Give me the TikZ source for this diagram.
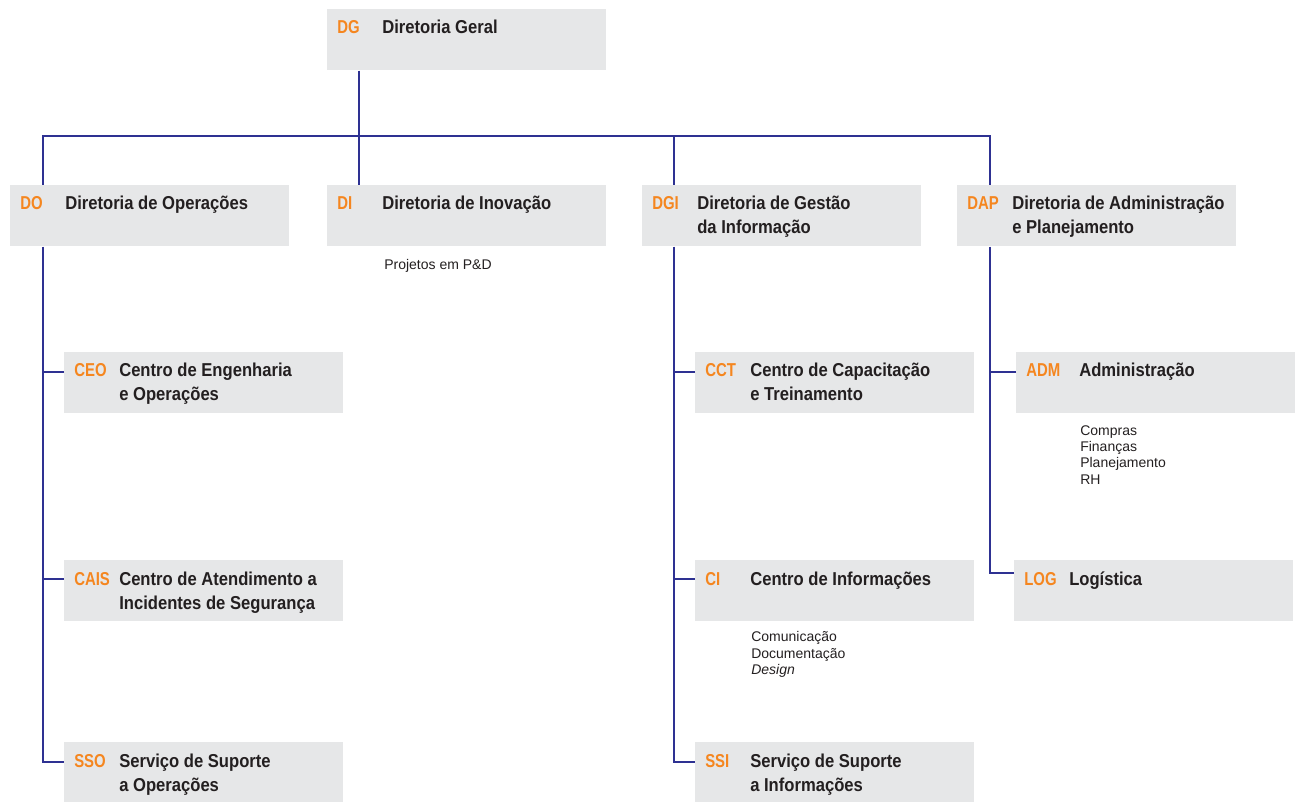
\documentclass[tikz,border=0pt]{standalone}
\usepackage{fontspec}
\setmainfont{Liberation Sans}
\newfontfamily\titlefont[FakeStretch=0.89]{Liberation Sans}
\newfontfamily\codefont[FakeStretch=0.8]{Liberation Sans}
\newfontfamily\notefont{Liberation Sans}
\definecolor{boxgray}{RGB}{230,231,232}
\definecolor{codeorange}{RGB}{245,134,31}
\definecolor{linkblue}{RGB}{46,49,146}
\definecolor{inkdark}{RGB}{35,31,32}

\begin{document}
\begin{tikzpicture}[x=0.75pt,y=-0.75pt,
  box/.style={fill=boxgray, anchor=north west, inner sep=0pt, minimum width=209.25pt, minimum height=45.75pt},
  code/.style={anchor=base west, inner sep=0pt, text=codeorange, font=\codefont\fontsize{14}{18}\selectfont\bfseries},
  title/.style={anchor=base west, inner sep=0pt, align=left, text=inkdark, font=\titlefont\fontsize{14}{18}\selectfont\bfseries},
  note/.style={anchor=base west, inner sep=0pt, align=left, text=inkdark, font=\notefont\fontsize{10.5}{12.2}\selectfont},
  link/.style={draw=linkblue, line width=1.5pt}]
\useasboundingbox (0,0) rectangle (1300,802);

% Boxes
\node[box] (dg)   at (327,9) {};
\node[box] (do)   at (10,185) {};
\node[box] (di)   at (327,185) {};
\node[box] (dgi)  at (642,185) {};
\node[box] (dap)  at (957,185) {};
\node[box] (ceo)  at (64,352) {};
\node[box] (cais) at (64,560) {};
\node[box] (sso)  at (64,742) {};
\node[box] (cct)  at (695,352) {};
\node[box] (ci)   at (695,560) {};
\node[box] (ssi)  at (695,742) {};
\node[box] (adm)  at (1016,352) {};
\node[box] (log)  at (1014,560) {};

% Codes and titles (base of a two-line title is its last line)
\node[code]  (dg-c)   at ([shift={(10,25)}]dg.north west) {DG};
\node[title] (dg-t)   at ([shift={(55,25)}]dg.north west) {Diretoria Geral};
\node[code]  (do-c)   at ([shift={(10,25)}]do.north west) {DO};
\node[title] (do-t)   at ([shift={(55,25)}]do.north west) {Diretoria de Operações};
\node[code]  (di-c)   at ([shift={(10,25)}]di.north west) {DI};
\node[title] (di-t)   at ([shift={(55,25)}]di.north west) {Diretoria de Inovação};
\node[code]  (dgi-c)  at ([shift={(10,25)}]dgi.north west) {DGI};
\node[title] (dgi-t)  at ([shift={(55,49)}]dgi.north west) {Diretoria de Gestão\\da Informação};
\node[code]  (dap-c)  at ([shift={(10,25)}]dap.north west) {DAP};
\node[title] (dap-t)  at ([shift={(55,49)}]dap.north west) {Diretoria de Administração\\e Planejamento};
\node[code]  (ceo-c)  at ([shift={(10,25)}]ceo.north west) {CEO};
\node[title] (ceo-t)  at ([shift={(55,49)}]ceo.north west) {Centro de Engenharia\\e Operações};
\node[code]  (cais-c) at ([shift={(10,25)}]cais.north west) {CAIS};
\node[title] (cais-t) at ([shift={(55,49)}]cais.north west) {Centro de Atendimento a\\Incidentes de Segurança};
\node[code]  (sso-c)  at ([shift={(10,25)}]sso.north west) {SSO};
\node[title] (sso-t)  at ([shift={(55,49)}]sso.north west) {Serviço de Suporte\\a Operações};
\node[code]  (cct-c)  at ([shift={(10,25)}]cct.north west) {CCT};
\node[title] (cct-t)  at ([shift={(55,49)}]cct.north west) {Centro de Capacitação\\e Treinamento};
\node[code]  (ci-c)   at ([shift={(10,25)}]ci.north west) {CI};
\node[title] (ci-t)   at ([shift={(55,25)}]ci.north west) {Centro de Informações};
\node[code]  (ssi-c)  at ([shift={(10,25)}]ssi.north west) {SSI};
\node[title] (ssi-t)  at ([shift={(55,49)}]ssi.north west) {Serviço de Suporte\\a Informações};
\node[code]  (adm-c)  at ([shift={(10,25)}]adm.north west) {ADM};
\node[title] (adm-t)  at ([shift={(63,25)}]adm.north west) {Administração};
\node[code]  (log-c)  at ([shift={(10,25)}]log.north west) {LOG};
\node[title] (log-t)  at ([shift={(55,25)}]log.north west) {Logística};

% Notes (placed at the base of their last line)
\node[note] (di-n)  at (384,270) {Projetos em P\&D};
\node[note] (ci-n)  at (751,674.5) {Comunicação\\Documentação\\\textit{Design}};
\node[note] (adm-n) at (1080,484) {Compras\\Finanças\\Planejamento\\RH};

% Connectors
\coordinate (bus)   at (359,136);
\coordinate (dg-b)  at ([shift={(32,0)}]dg.south west);
\coordinate (do-a)  at ([shift={(33,0)}]do.north west);
\coordinate (di-a)  at ([shift={(32,0)}]di.north west);
\coordinate (dgi-a) at ([shift={(32,0)}]dgi.north west);
\coordinate (dap-a) at ([shift={(33,0)}]dap.north west);
\draw[link] (dg-b) -- (bus);
\draw[link] (do-a) -- (do-a |- bus) -- (dap-a |- bus) -- (dap-a);
\draw[link] (di-a) -- (di-a |- bus);
\draw[link] (dgi-a) -- (dgi-a |- bus);

\coordinate (do-b)  at ([shift={(33,0)}]do.south west);
\coordinate (dgi-b) at ([shift={(32,0)}]dgi.south west);
\coordinate (dap-b) at ([shift={(33,0)}]dap.south west);
\draw[link] (do-b) |- ([shift={(0,19.5)}]sso.north west);
\draw[link] ([shift={(0,20)}]ceo.north west) -- ++(-21,0);
\draw[link] ([shift={(0,19)}]cais.north west) -- ++(-21,0);
\draw[link] (dgi-b) |- ([shift={(0,19.5)}]ssi.north west);
\draw[link] ([shift={(0,20)}]cct.north west) -- ++(-21,0);
\draw[link] ([shift={(0,19)}]ci.north west) -- ++(-21,0);
\draw[link] (dap-b) |- ([shift={(0,13)}]log.north west);
\draw[link] ([shift={(0,20)}]adm.north west) -- ++(-26,0);

\end{tikzpicture}
\end{document}
